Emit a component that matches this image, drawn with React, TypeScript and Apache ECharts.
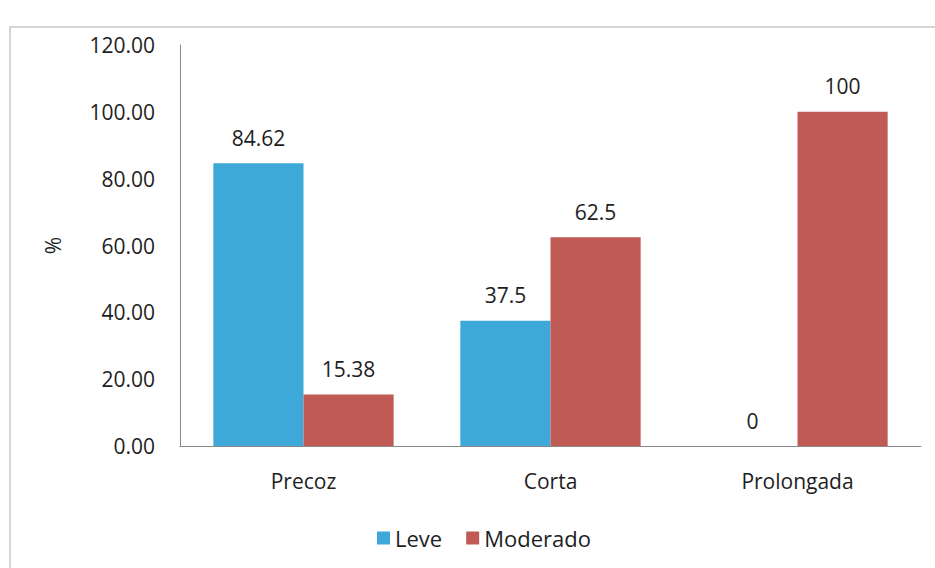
import React, { useEffect, useRef } from "react";
import * as echarts from "echarts";

const categories = ["Precoz", "Corta", "Prolongada"];
const leve = [84.62, 37.5, 0];
const moderado = [15.38, 62.5, 100];
const seriesNames = ["Leve", "Moderado"];

export default function App() {
  const ref = useRef<HTMLDivElement>(null);
  useEffect(() => {
    const chart = echarts.init(ref.current!, null, { renderer: "svg" });
    const font = "'Open Sans', 'Noto Sans', sans-serif";
    const fs = 21;
    const labelStyle = {
      show: true,
      position: "top",
      distance: 15,
      fontFamily: font,
      fontSize: fs,
      color: "#1e1e1e",
    };
    chart.setOption({
      animation: false,
      backgroundColor: "#fff",
      textStyle: { fontFamily: font },
      graphic: [
        {
          type: "rect",
          shape: { x: 10, y: 27, width: 940, height: 560 },
          style: { fill: "none", stroke: "#c8c8c8", lineWidth: 1.5 },
          silent: true,
        },
      ],
      grid: { left: 180, right: 14, top: 45, bottom: 122, containLabel: false },
      legend: {
        bottom: 14,
        left: 372,
        itemWidth: 13,
        itemHeight: 13,
        itemGap: 24,
        icon: "rect",
        textStyle: { fontFamily: font, fontSize: 22, color: "#1e1e1e" },
        data: seriesNames,
      },
      xAxis: {
        type: "category",
        data: categories,
        axisLine: { lineStyle: { color: "#888" } },
        axisTick: { show: false },
        axisLabel: { fontFamily: font, fontSize: fs, color: "#1e1e1e", margin: 24 },
      },
      yAxis: {
        type: "value",
        min: 0,
        max: 120,
        interval: 20,
        name: "%",
        nameLocation: "middle",
        nameGap: 117,
        nameRotate: 90,
        nameTextStyle: { fontFamily: font, fontSize: fs, color: "#1e1e1e" },
        axisLine: { show: true, lineStyle: { color: "#888" } },
        axisTick: { show: false },
        splitLine: { show: false },
        axisLabel: {
          fontFamily: font,
          fontSize: fs,
          color: "#1e1e1e",
          margin: 25,
          formatter: (v: number) => v.toFixed(2),
        },
      },
      series: [
        {
          name: seriesNames[0],
          type: "bar",
          data: leve,
          barGap: "0%",
          barCategoryGap: "27%",
          itemStyle: { color: "#3EA8D8" },
          label: labelStyle,
        },
        {
          name: seriesNames[1],
          type: "bar",
          data: moderado,
          barGap: "0%",
          barCategoryGap: "27%",
          itemStyle: { color: "#C05A55" },
          label: labelStyle,
        },
      ],
    });
    return () => chart.dispose();
  }, []);
  return (
    <div
      ref={ref}
      style={{ position: "fixed", left: 0, top: 0, width: 935, height: 568 }}
    />
  );
}
